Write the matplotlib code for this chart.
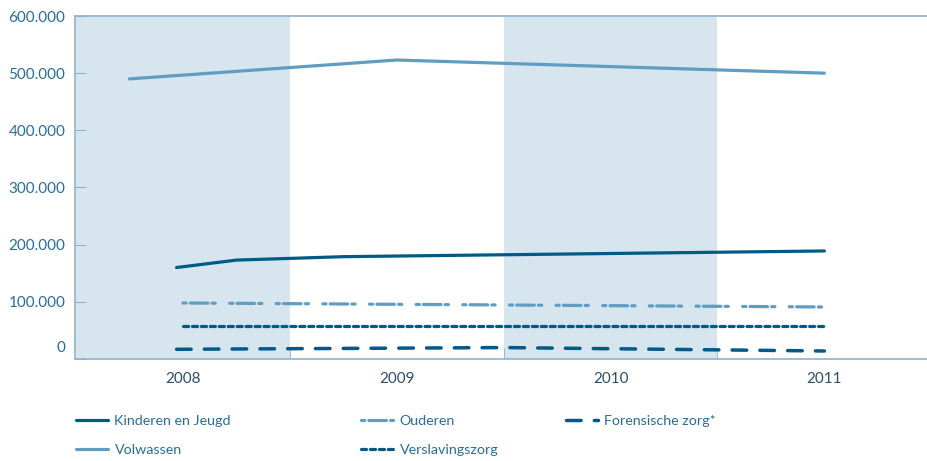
import numpy as np
import matplotlib.pyplot as plt
from matplotlib.ticker import FuncFormatter, FixedLocator

# ---------
# > Data <
# ---------
years = [2008, 2009, 2010, 2011]
shaded_years = [2008, 2010]

kinderen_x = [2007.97, 2008.25, 2008.75, 2011]
kinderen_y = [160000, 173000, 179000, 189000]

volwassen_x = [2007.75, 2009, 2011]
volwassen_y = [490000, 523000, 500000]

ouderen_x = [2008, 2011]
ouderen_y = [98000, 91000]

verslaving_x = [2008, 2011]
verslaving_y = [58000, 58000]

forensisch_x = [2007.97, 2009, 2009.5, 2011]
forensisch_y = [17000, 19000, 20000, 14000]

# color palette
DARK = "#005a87"
LIGHT = "#5f9dc3"
SHADE = "#d7e5ef"
AXIS = "#8db3d0"
TEXT = "#276d99"

plt.rcParams["font.family"] = ["Lato", "DejaVu Sans"]

fig = plt.figure(figsize=(9.27, 4.61), dpi=100)
ax = fig.add_axes([75 / 927, 102 / 461, 1 - 75 / 927, 343 / 461])

# background bands
for yr in shaded_years:
    ax.axvspan(yr - 0.5, yr + 0.5, color=SHADE, lw=0, zorder=0)

lw = 2.3
ax.plot(volwassen_x, volwassen_y, color=LIGHT, lw=lw, solid_capstyle="round", label="Volwassen")
ax.plot(kinderen_x, kinderen_y, color=DARK, lw=lw, solid_capstyle="round", label="Kinderen en Jeugd")
ax.plot(ouderen_x, ouderen_y, color=LIGHT, lw=lw, dash_capstyle="round",
        dashes=(1.0, 1.3, 5.5, 1.3, 1.0, 4.5), label="Ouderen")
ax.plot(verslaving_x, verslaving_y, color=DARK, lw=lw, dash_capstyle="round",
        dashes=(1.6, 1.2), label="Verslavingszorg")
ax.plot(forensisch_x, forensisch_y, color=DARK, lw=2.5, dash_capstyle="round",
        dashes=(4.2, 3.8), label="Forensische zorg*")

ax.set_xlim(2007.495, 2011.48)
ax.set_ylim(0, 600000)

# axes styling
for s in ["left", "bottom", "top"]:
    ax.spines[s].set_color(AXIS)
    ax.spines[s].set_linewidth(1.2)
ax.spines["right"].set_visible(False)

ax.set_yticks(range(0, 600001, 100000))
ax.yaxis.set_major_formatter(FuncFormatter(lambda v, p: "" if v == 0 else f"{int(v):,}".replace(",", ".")))
ax.tick_params(axis="y", direction="in", length=8, color=AXIS, labelcolor=TEXT, labelsize=11, pad=7)
ax.text(-0.011, 0.032, "0", transform=ax.transAxes, ha="right", va="center", color=TEXT, fontsize=11)

ax.set_xticks(years)
ax.set_xticklabels([str(y) for y in years])
ax.tick_params(axis="x", which="major", length=0, labelcolor="#2b4f66", labelsize=11, pad=9)
ax.xaxis.set_minor_locator(FixedLocator([2008.5, 2009.5, 2010.5]))
ax.tick_params(axis="x", which="minor", direction="in", length=8, color=AXIS)

# legend, one column at a time
handles = {l.get_label(): l for l in ax.get_lines()}
columns = [
    (["Kinderen en Jeugd", "Volwassen"], 73),
    (["Ouderen", "Verslavingszorg"], 358),
    (["Forensische zorg*"], 563),
]
for labels, x0 in columns:
    fig.legend([handles[l] for l in labels], labels,
               loc="upper left", bbox_to_anchor=(x0 / 927, 1 - 412 / 461),
               frameon=False, fontsize=10.3, labelcolor=TEXT,
               handlelength=2.25, handletextpad=0.45, labelspacing=1.2,
               borderaxespad=0, borderpad=0.2)

plt.savefig("out.png", dpi=100)
